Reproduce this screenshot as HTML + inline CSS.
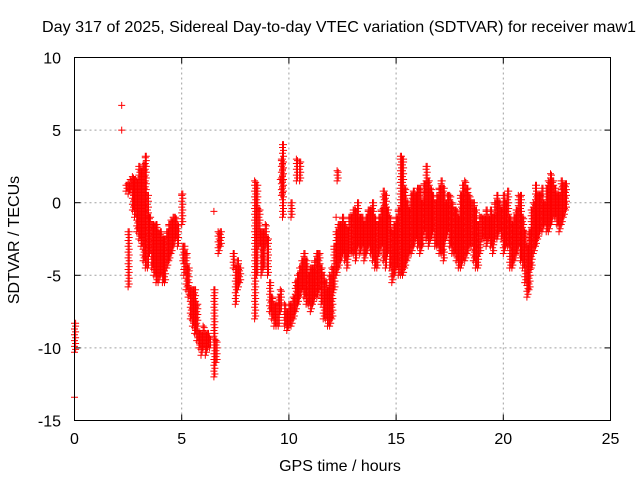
<!DOCTYPE html>
<html><head><meta charset="utf-8"><style>
body{margin:0;background:#fff}
svg{display:block;font-family:"Liberation Sans",sans-serif}
</style></head><body>
<svg id="chart" width="640" height="480" xmlns="http://www.w3.org/2000/svg">
<rect width="640" height="480" fill="#fff"/>
<text x="339" y="32" font-size="16" text-anchor="middle" textLength="594" lengthAdjust="spacingAndGlyphs">Day 317 of 2025, Sidereal Day-to-day VTEC variation (SDTVAR) for receiver maw1</text>
<g id="grid"></g>
<g id="ticks"></g>
<path id="marks" fill="none" stroke="#ff0000" stroke-width="1"/>
<rect x="74.5" y="57.5" width="536" height="363" fill="none" stroke="#000"/>
<text x="340" y="471" font-size="16" text-anchor="middle">GPS time / hours</text>
<text x="0" y="0" font-size="16" text-anchor="middle" transform="translate(19,240) rotate(-90)">SDTVAR / TECUs</text>
</svg>
<script>
const xTicks=[0,5,10,15,20,25];
const yTicks=[10,5,0,-5,-10,-15];
const binT=[0,2.4,2.5,2.5,2.6,2.7,2.8,2.9,3.0,3.1,3.2,3.3,3.4,3.5,3.6,3.7,3.8,3.9,4.0,4.1,4.2,4.3,4.4,4.5,4.6,4.7,4.8,5.0,5.05,5.1,5.2,5.3,5.4,5.5,5.6,5.7,5.8,5.9,6.0,6.1,6.2,6.3,6.5,6.6,6.7,6.8,7.4,7.5,7.6,7.7,8.4,8.5,8.6,8.7,8.8,8.9,9.0,9.1,9.2,9.3,9.4,9.5,9.6,9.65,9.7,9.8,9.9,10.0,10.1,10.1,10.2,10.3,10.35,10.4,10.5,10.5,10.6,10.7,10.8,10.9,11.0,11.1,11.2,11.3,11.4,11.5,11.6,11.7,11.8,11.9,12.0,12.1,12.2,12.25,12.3,12.4,12.5,12.6,12.7,12.8,12.9,13.0,13.1,13.2,13.3,13.4,13.5,13.6,13.7,13.8,13.9,14.0,14.1,14.2,14.3,14.4,14.5,14.6,14.7,14.8,14.9,15.0,15.1,15.2,15.3,15.4,15.5,15.6,15.7,15.8,15.9,16.0,16.1,16.2,16.3,16.4,16.5,16.6,16.7,16.8,16.9,17.0,17.1,17.2,17.3,17.4,17.5,17.6,17.7,17.8,17.9,18.0,18.1,18.2,18.3,18.4,18.5,18.6,18.7,18.8,18.9,19.0,19.1,19.2,19.3,19.4,19.5,19.6,19.7,19.8,19.9,20.0,20.1,20.2,20.3,20.4,20.5,20.6,20.7,20.8,20.9,21.0,21.1,21.2,21.3,21.4,21.5,21.6,21.7,21.8,21.9,22.0,22.1,22.2,22.3,22.4,22.5,22.6,22.7,22.8,22.9];
const binLo=[-10.3,0.8,-5.8,0.6,0.9,-0.5,-1,-2,-2.5,-3,-4,-4.5,-4.5,-3.5,-4.5,-5,-5.5,-5.5,-5,-5.5,-5.5,-4.5,-4,-3.5,-3,-2.5,-3,-1.5,-4,-5,-6,-6.5,-8,-8.5,-9,-9.5,-10,-10.5,-10,-10.5,-10,-10,-12,-11,-3.5,-3,-4.5,-7,-6,-5.5,-8,-5,-3,-5,-4.5,-3,-5,-7.5,-8,-8.5,-8.5,-8.5,-7.5,0.5,-1,-8.5,-8.8,-8.5,-1,-8.5,-8,-7.5,1.5,-7,1.5,-6.5,-6,-6.5,-7,-7,-7.5,-7,-6.5,-6.5,-6,-7,-8,-8,-8.5,-8.5,-8,-6,-5,1.5,-4.5,-4,-3.5,-4,-4.5,-3.5,-3.5,-3.5,-4,-3,-3.5,-3,-4,-3.5,-3,-3.5,-4,-4.5,-4.5,-3.5,-3,-4,-4.5,-3.5,-4.5,-5.5,-5,-4.5,-5,-5,-5,-4.5,-4,-3.5,-3.5,-3,-2.5,-3,-3.5,-3,-2,-2.5,-3,-2.5,-2,-3,-3,-3.5,-3.5,-4,-2.5,-2,-3,-3.5,-3.5,-4,-4.5,-4.5,-4,-4,-3.5,-3,-3,-4,-4.5,-4.5,-3.5,-2.5,-2.5,-3,-2.5,-3,-3.5,-2.5,-2.5,-2,-2.5,-3.5,-3,-3,-4.5,-4.5,-4,-3.5,-3,-4,-4.5,-5.5,-6.5,-6,-4.5,-3.5,-3,-2.5,-2,-2,-1.5,-2,-2,-1.5,-1,-1,-1.5,-2,-1.5,-1,-0.5];
const binHi=[-8.3,1.2,-2,1.3,1.6,1.8,1.6,1.5,2.5,2.2,2.6,3.2,0.5,-1,-1.5,-1.5,-1.5,-2,-2,-2.5,-2.5,-2,-1.5,-1.2,-1,-1,-1.5,0.6,-3,-3,-3.5,-4.5,-6,-6,-6,-7,-9,-9,-8.5,-9,-9,-9.3,-6,-9.5,-2,-2,-3.5,-4.5,-4,-4.5,1.5,1.2,-0.5,-2,-2,-1.5,-2.5,-5.5,-6.5,-7,-7,-6.5,-6,3,4,-7,-7.5,-7,0,-7,-6.5,-5.5,3,-5,2.8,-4.5,-4,-3.5,-4,-5,-4.5,-4.5,-4,-3.5,-3.5,-4.5,-5,-5.5,-6,-5,-4.5,-3,-2,2.2,-1.5,-1.5,-1,-1.5,-1.8,-1,-1,-0.5,-0.5,0,-1,-1,-1.5,-1,-0.5,-0.5,0,-1,-1.5,-1,-0.5,0.8,0.5,-0.5,-1,-2,-1.5,-1,-0.5,3.2,3,1,0,-0.5,0.5,0.8,0.5,1,1,0,1.3,2.5,1.5,1,0.5,0,0.5,1,1.5,1,0,0.5,0.5,0,-0.5,-0.5,-1,0.5,1.2,1.5,1,0.5,0,0,-0.5,-1.5,-1,-1,-1,-0.5,-1,-0.5,-1,0,0.5,0,-0.5,0.5,0,0.8,-1,-1.5,-1,-0.5,0.5,0.5,-1,-2,-3,-2,-0.5,0,1.2,0.5,0.5,1,0,1,1.5,2,1.5,1,0.5,0.5,1.5,1.2,1.3];
const ptT=[0,2.2,2.2,6.5,12.2,9.6];
const ptV=[-13.4,6.7,5.0,-0.6,-1,1.6];
const X0=74.5,X1=610.5,Y0=57.5,Y1=420.5;
const xs=t=>X0+(t/25)*(X1-X0);
const ys=v=>Y0+((10-v)/25)*(Y1-Y0);
const NS="http://www.w3.org/2000/svg";
const svg=document.getElementById('chart');
const grid=document.getElementById('grid'),ticks=document.getElementById('ticks');
function mk(tag,attrs,parent){const e=document.createElementNS(NS,tag);for(const k in attrs)e.setAttribute(k,attrs[k]);parent.appendChild(e);return e;}
xTicks.forEach(t=>{const x=xs(t);
 if(t>0&&t<25){const g=mk('line',{x1:x,x2:x,y1:Y0,y2:Y1,stroke:'#a0a0a0','stroke-dasharray':'2,3'},grid);
 
 }
 mk('line',{x1:x,x2:x,y1:Y1,y2:Y1-6,stroke:'#000'},ticks);
 mk('line',{x1:x,x2:x,y1:Y0,y2:Y0+6,stroke:'#000'},ticks);
 const l=mk('text',{x:x,y:444,'font-size':16,'text-anchor':'middle'},svg);l.textContent=t;
 
 });
yTicks.forEach(v=>{const y=ys(v);
 if(v<10&&v>-15){const g=mk('line',{x1:X0,x2:X1,y1:y,y2:y,stroke:'#a0a0a0','stroke-dasharray':'2,3'},grid);
 
 }
 mk('line',{x1:X0,x2:X0+6,y1:y,y2:y,stroke:'#000'},ticks);
 mk('line',{x1:X1,x2:X1-6,y1:y,y2:y,stroke:'#000'},ticks);
 const l=mk('text',{x:61,y:y+6,'font-size':16,'text-anchor':'end'},svg);l.textContent=v;
 
 });
let d='';
function plus(t,v){const x=xs(t),y=ys(v);d+=`M${(x-3.5).toFixed(1)} ${y.toFixed(1)}h7M${x.toFixed(1)} ${(y-3.5).toFixed(1)}v7`;}
binT.forEach((t,i)=>{const lo=binLo[i],hi=binHi[i];
 for(let v=lo;v<=hi+0.001;v+=0.4){plus(t,v);plus(t+0.05,Math.min(hi,v+0.2));}
 plus(t,hi);});
ptT.forEach((t,i)=>plus(t,ptV[i]));
document.getElementById('marks').setAttribute('d',d);
</script>
</body></html>
